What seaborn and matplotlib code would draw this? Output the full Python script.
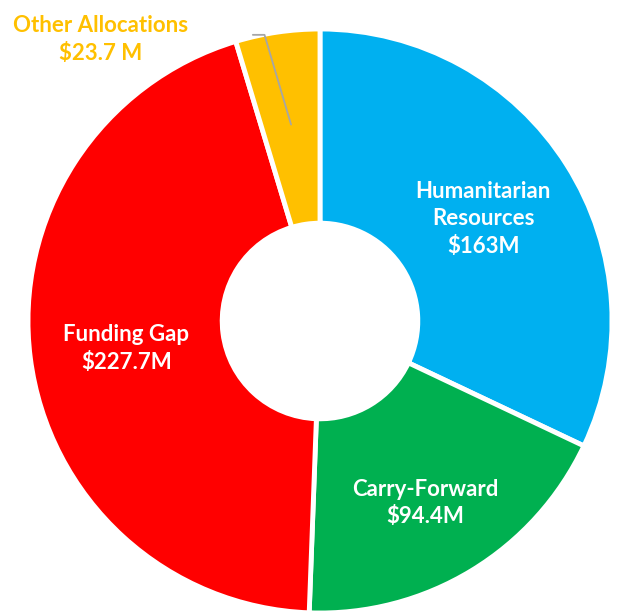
import numpy as np
import seaborn as sns
import matplotlib.pyplot as plt

# funding breakdown (US$ millions)
categories = ["Humanitarian\nResources", "Carry-Forward", "Funding Gap", "Other Allocations"]
values = [163, 94.4, 227.7, 23.7]
value_labels = ["$163M", "$94.4M", "$227.7M", "$23.7 M"]
colors = ["#00B0F0", "#00B050", "#FF0000", "#FFC000"]

sns.set_theme(style="white")
plt.rcParams['font.family'] = ['Lato', 'DejaVu Sans']

fig = plt.figure(figsize=(6.26, 6.13), dpi=100)
ax = fig.add_axes([28/626, 0, 584/626, 584/613])

wedges, _ = ax.pie(values, colors=colors, startangle=90, counterclock=False,
                   radius=1.0,
                   wedgeprops=dict(width=0.665, edgecolor="white", linewidth=3.5))
ax.set_xlim(-1, 1)
ax.set_ylim(-1, 1)
ax.axis("off")

# label placement (radius, angle in degrees) for the inside labels
label_pos = [(0.66, 32), (0.72, -60), (0.67, 188)]
for i in range(3):
    r, a = label_pos[i]
    x = r*np.cos(np.radians(a))
    y = r*np.sin(np.radians(a))
    ax.text(x, y, categories[i] + "\n" + value_labels[i], ha="center", va="center",
            color="white", fontsize=16, fontweight="bold", linespacing=1.4)

# outside label with leader line for the small slice
w = wedges[3]
mid = np.radians((w.theta1 + w.theta2)/2)
tip = (0.68*np.cos(mid), 0.68*np.sin(mid))
ax.plot([-0.23, -0.19, tip[0]], [0.98, 0.98, tip[1]], color="#A6A6A6", lw=1.3,
        clip_on=False)
ax.text(-0.75, 0.965, categories[3] + "\n" + value_labels[3], ha="center", va="center",
        color="#FFC000", fontsize=16, fontweight="bold", linespacing=1.4)

fig.savefig("out.png", dpi=100)
